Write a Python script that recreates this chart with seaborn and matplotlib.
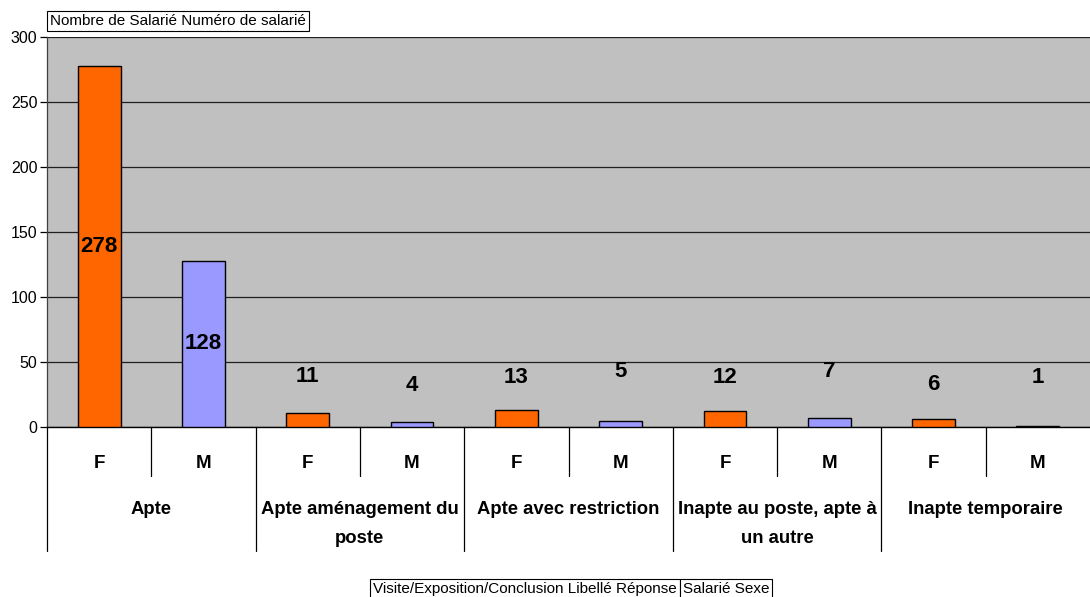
import matplotlib
matplotlib.use("Agg")
import matplotlib.pyplot as plt
import seaborn as sns
import pandas as pd

# ---- data ----
conclusions = ["Apte", "Apte aménagement du\nposte", "Apte avec restriction",
               "Inapte au poste, apte à\nun autre", "Inapte temporaire"]
sexes = ["F", "M"]
values_F = [278, 11, 13, 12, 6]
values_M = [128, 4, 5, 7, 1]
y_ticks = [0, 50, 100, 150, 200, 250, 300]
y_title = "Nombre de Salarié Numéro de salarié"
x_title_1 = "Visite/Exposition/Conclusion Libellé Réponse"
x_title_2 = "Salarié Sexe"

# label vertical positions (layout, in data units)
label_pos_F = [139, 38.5, 37.7, 38, 33]
label_pos_M = [64, 32, 43, 43, 38]

rows = []
for i, c in enumerate(conclusions):
    rows.append({"slot": f"{i}F", "sexe": "F", "count": values_F[i]})
    rows.append({"slot": f"{i}M", "sexe": "M", "count": values_M[i]})
df = pd.DataFrame(rows)

sns.set_theme(style="white")
plt.rcParams["font.family"] = ["Liberation Sans", "DejaVu Sans"]
plt.rcParams["text.color"] = "black"
plt.rcParams["ytick.color"] = "black"
plt.rcParams["ytick.labelcolor"] = "black"

W, H = 1090, 597
fig = plt.figure(figsize=(W / 100, H / 100), dpi=100)
left, right, top, bottom = 47, 1090, 37, 427
ax = fig.add_axes([left / W, (H - bottom) / H, (right - left) / W, (bottom - top) / H])
ax.set_facecolor("#C0C0C0")

sns.barplot(data=df, x="slot", y="count", hue="sexe", dodge=False, saturation=1,
            palette={"F": "#FF6600", "M": "#9999FF"}, width=0.41,
            edgecolor="black", linewidth=1.0, legend=False, ax=ax, zorder=3)

ax.set_xlim(-0.5, 9.5)
ax.set_ylim(0, 300)
ax.set_yticks(y_ticks)
ax.set_yticklabels([str(t) for t in y_ticks], fontsize=11.5)
ax.set_xticks([])
ax.set_xlabel("")
ax.set_ylabel("")
ax.yaxis.grid(True, color="#202020", linewidth=0.9, zorder=1)
ax.set_axisbelow(True)
ax.tick_params(axis="y", direction="out", length=5, width=0.9, color="black", left=True, pad=2)
for s in ["top", "right"]:
    ax.spines[s].set_visible(False)
ax.spines["left"].set_color("#404040")
ax.spines["bottom"].set_color("black")
ax.spines["left"].set_linewidth(0.9)
ax.spines["bottom"].set_linewidth(1.0)

# data labels
for i in range(len(conclusions)):
    ax.text(2 * i, label_pos_F[i], str(values_F[i]), ha="center", va="center",
            fontsize=16, fontweight="bold", zorder=5)
    ax.text(2 * i + 1, label_pos_M[i], str(values_M[i]), ha="center", va="center",
            fontsize=16, fontweight="bold", zorder=5)

# multi-level category axis
trans = ax.get_xaxis_transform()
def yfrac(py):
    return (bottom - py) / (bottom - top)

for k in range(10):
    ax.text(k, yfrac(463), sexes[k % 2], transform=trans, ha="center", va="center",
            fontsize=13.5, fontweight="bold", clip_on=False)
for i, c in enumerate(conclusions):
    ax.text(2 * i + 0.5, yfrac(501), c, transform=trans, ha="center", va="top",
            fontsize=13.3, fontweight="bold", linespacing=1.9, clip_on=False)
for k in range(10):
    x = k - 0.5
    y_end = 551 if k % 2 == 0 else 476
    ax.plot([x, x], [0, yfrac(y_end)], transform=trans, color="black",
            linewidth=0.9, clip_on=False)

# title boxes
box = dict(boxstyle="square,pad=0.2", facecolor="white", edgecolor="black", linewidth=0.8)
fig.text(50 / W, 1 - 21 / H, y_title, ha="left", va="center", fontsize=11, bbox=box)
t1 = fig.text(373 / W, 1 - 589 / H, x_title_1, ha="left", va="center", fontsize=11, bbox=box)
fig.canvas.draw()
bb = t1.get_bbox_patch().get_window_extent(fig.canvas.get_renderer())
fig.text((bb.x1 + 3) / W, 1 - 589 / H, x_title_2, ha="left", va="center", fontsize=11, bbox=box)

fig.savefig("out.png", dpi=100, facecolor="white")
